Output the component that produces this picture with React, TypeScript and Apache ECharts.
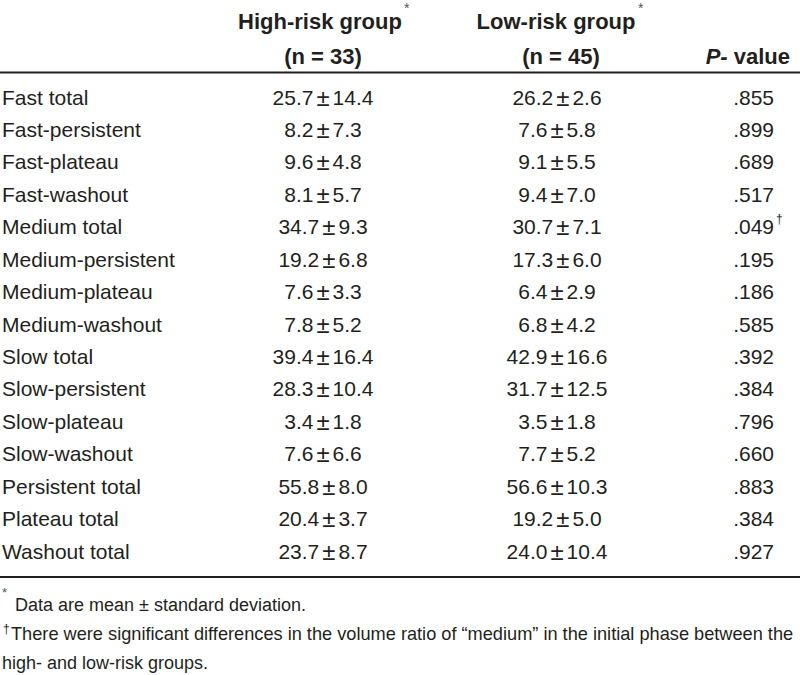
import React, { useEffect, useRef } from "react";
import * as echarts from "echarts";

const rowLabels = [
  "Fast total", "Fast-persistent", "Fast-plateau", "Fast-washout",
  "Medium total", "Medium-persistent", "Medium-plateau", "Medium-washout",
  "Slow total", "Slow-persistent", "Slow-plateau", "Slow-washout",
  "Persistent total", "Plateau total", "Washout total",
];
const highMean = ["25.7", "8.2", "9.6", "8.1", "34.7", "19.2", "7.6", "7.8", "39.4", "28.3", "3.4", "7.6", "55.8", "20.4", "23.7"];
const highSd = ["14.4", "7.3", "4.8", "5.7", "9.3", "6.8", "3.3", "5.2", "16.4", "10.4", "1.8", "6.6", "8.0", "3.7", "8.7"];
const lowMean = ["26.2", "7.6", "9.1", "9.4", "30.7", "17.3", "6.4", "6.8", "42.9", "31.7", "3.5", "7.7", "56.6", "19.2", "24.0"];
const lowSd = ["2.6", "5.8", "5.5", "7.0", "7.1", "6.0", "2.9", "4.2", "16.6", "12.5", "1.8", "5.2", "10.3", "5.0", "10.4"];
const pValues = [".855", ".899", ".689", ".517", ".049", ".195", ".186", ".585", ".392", ".384", ".796", ".660", ".883", ".384", ".927"];
const pMarks = ["", "", "", "", "\u2020", "", "", "", "", "", "", "", "", "", ""];
const headers = ["High-risk group", "Low-risk group"];
const groupN = ["(n = 33)", "(n = 45)"];
const footnotes = [
  "Data are mean \u00b1 standard deviation.",
  "There were significant differences in the volume ratio of \u201cmedium\u201d in the initial phase between the",
  "high- and low-risk groups.",
];

const FONT = "'Liberation Sans', Arial, sans-serif";
const COLOR = "#231f20";

export default function App() {
  const ref = useRef<HTMLDivElement>(null);
  useEffect(() => {
    if (!ref.current) return;
    const chart = echarts.init(ref.current, null, { renderer: "svg" });
    const els: any[] = [];
    const colX = [2, 323, 557, 774];
    const rowY0 = 97;
    const rowH = 32.43;
    const txt = (x: number, y: number, text: string, extra: any = {}) => ({
      type: "text",
      x,
      y,
      style: {
        text,
        fill: COLOR,
        font: `21px ${FONT}`,
        verticalAlign: "middle",
        ...extra,
      },
    });
    const richPm = {
      n: { fontSize: 21, fontFamily: FONT, fill: COLOR },
      pm: { fontSize: 24, fontFamily: FONT, fill: COLOR, padding: [0, 3, 0, 3] },
    };
    // headers
    headers.forEach((h, i) => {
      els.push(txt(i === 0 ? 320 : 556, 21, h, { font: `bold 22px ${FONT}`, align: "center" }));
      els.push(txt(i === 0 ? 323 : 561, 56, groupN[i], { font: `bold 22px ${FONT}`, align: "center" }));
    });
    els.push(txt(404, 8, "*", { font: `14px ${FONT}`, fill: "#555" }));
    els.push(txt(638, 8, "*", { font: `14px ${FONT}`, fill: "#555" }));
    els.push({
      type: "text",
      x: 790,
      y: 56,
      style: {
        text: "{i|P-} value",
        fill: COLOR,
        font: `bold 22px ${FONT}`,
        align: "right",
        verticalAlign: "middle",
        rich: { i: { fontStyle: "italic", fontWeight: "bold", fontSize: 22, fontFamily: FONT, fill: COLOR } },
      },
    });
    // rules
    els.push({ type: "line", shape: { x1: 0, y1: 72.5, x2: 800, y2: 72.5 }, style: { stroke: COLOR, lineWidth: 2 } });
    els.push({ type: "line", shape: { x1: 0, y1: 577, x2: 800, y2: 577 }, style: { stroke: COLOR, lineWidth: 2 } });
    // rows
    rowLabels.forEach((lab, i) => {
      const y = rowY0 + i * rowH;
      els.push(txt(colX[0], y, lab, { align: "left" }));
      els.push(txt(colX[1], y, `{n|${highMean[i]}}{pm|\u00b1}{n|${highSd[i]}}`, { align: "center", rich: richPm }));
      els.push(txt(colX[2], y, `{n|${lowMean[i]}}{pm|\u00b1}{n|${lowSd[i]}}`, { align: "center", rich: richPm }));
      els.push(txt(colX[3], y, pValues[i], { align: "right" }));
      if (pMarks[i]) els.push(txt(colX[3] + 2, y - 8, pMarks[i], { font: `12px ${FONT}`, align: "left" }));
    });
    // footnotes
    els.push(txt(2, 592, "*", { font: `13px ${FONT}`, fill: "#555" }));
    els.push(txt(15, 605, footnotes[0], { font: `18px ${FONT}` }));
    els.push(txt(3, 629, "\u2020", { font: `12px ${FONT}` }));
    els.push(txt(11, 634, footnotes[1], { font: `18.2px ${FONT}` }));
    els.push(txt(2, 663, footnotes[2], { font: `18px ${FONT}` }));

    chart.setOption({
      animation: false,
      backgroundColor: "#ffffff",
      graphic: { elements: els },
    });
    return () => chart.dispose();
  }, []);
  return (
    <div
      ref={ref}
      style={{ position: "fixed", left: 0, top: 0, width: 800, height: 675, background: "#fff" }}
    />
  );
}
